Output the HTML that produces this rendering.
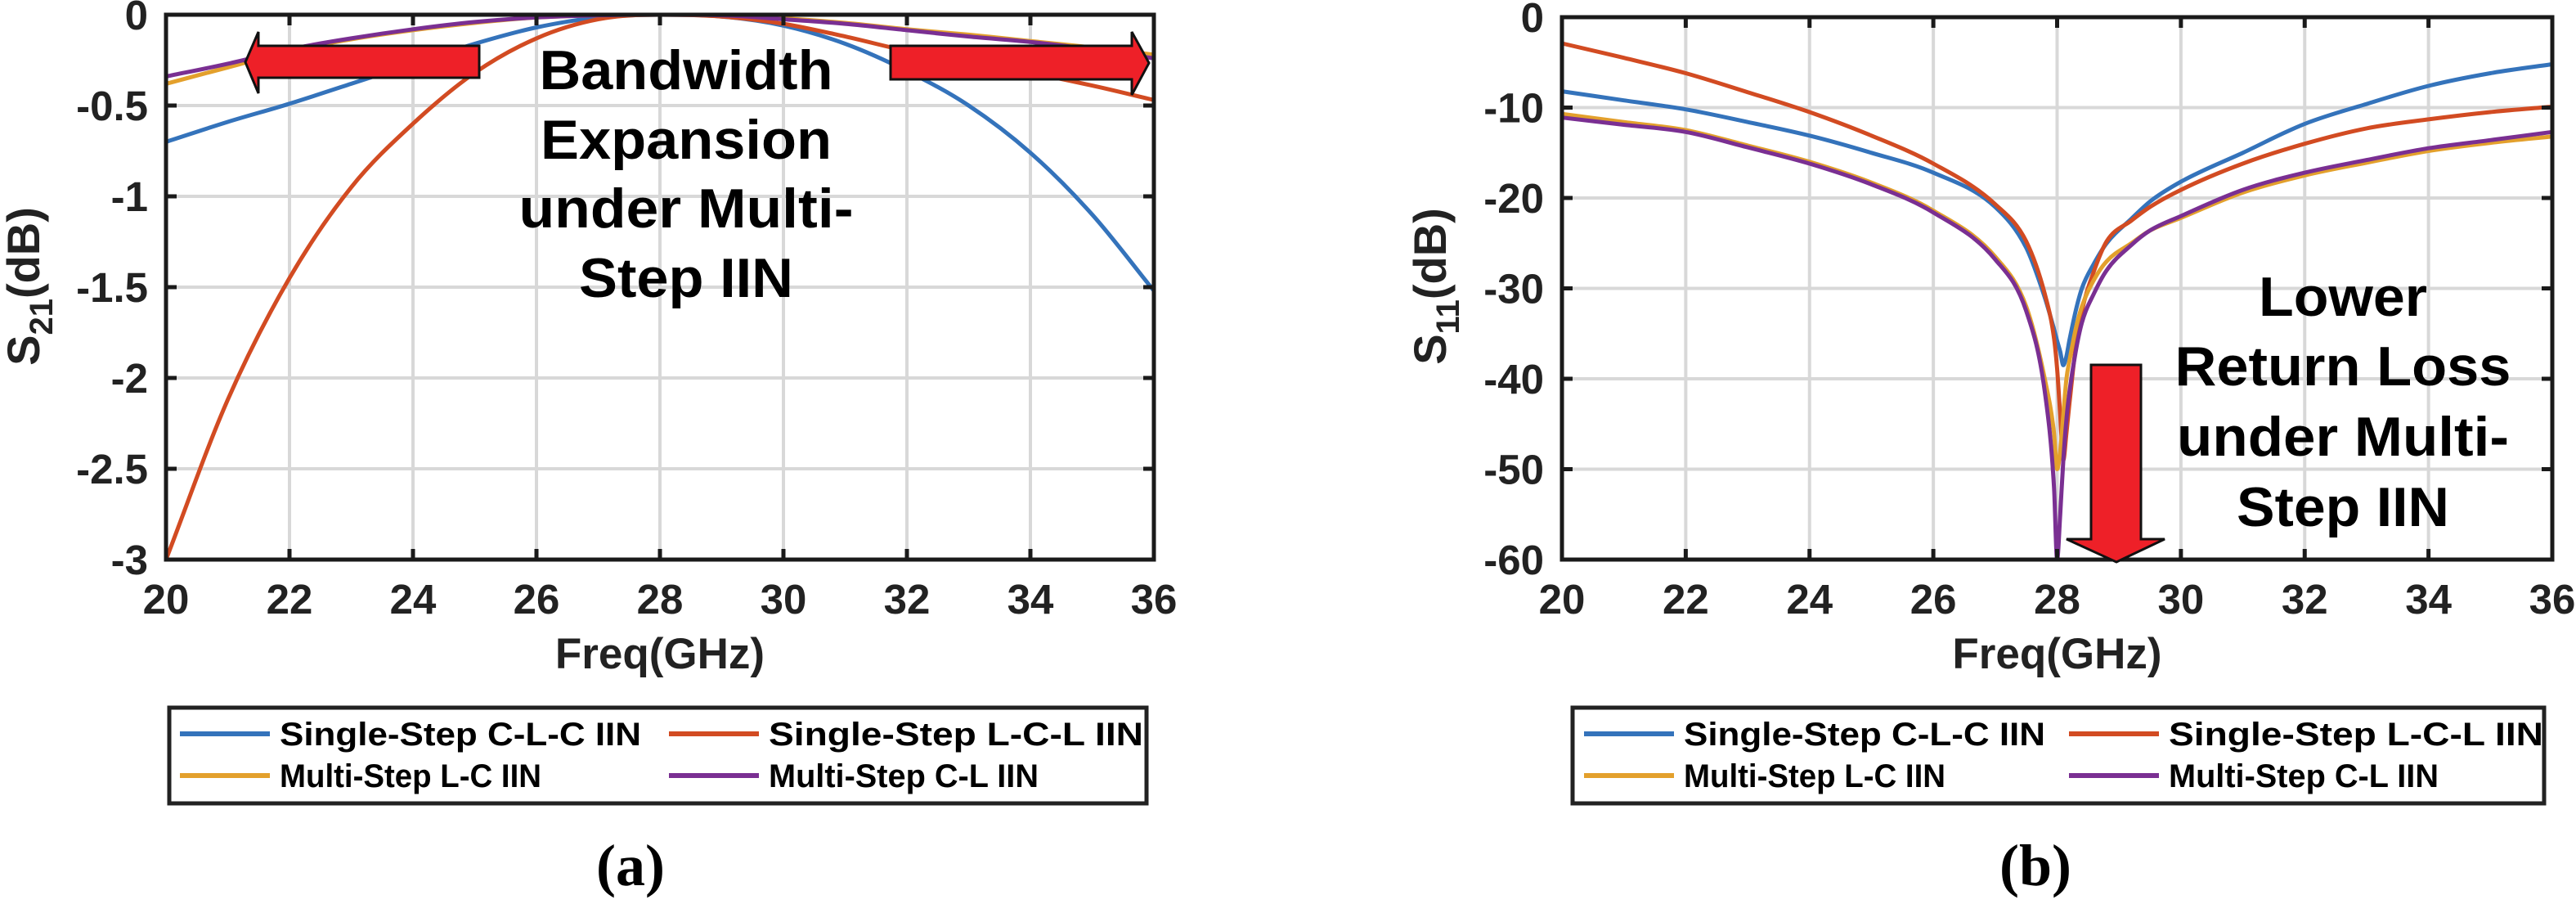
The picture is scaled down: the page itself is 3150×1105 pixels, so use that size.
<!DOCTYPE html>
<html><head><meta charset="utf-8"><style>
html,body{margin:0;padding:0;background:#fff;}
svg{display:block;}
text{font-family:"Liberation Sans",Arial,sans-serif;font-weight:bold;fill:#222;}
</style></head><body>
<svg id="fig" width="3150" height="1105" viewBox="0 0 3150 1105" xmlns="http://www.w3.org/2000/svg">
<g id="pa"></g>
<g id="pb"></g>
<g>
 <polygon points="300,76 316,39 316,56 586,56 586,95 316,95 316,114" fill="#ee2028" stroke="#111" stroke-width="3"/>
 <polygon points="1405,77 1384,39 1384,56 1089,56 1089,97 1384,97 1384,116" fill="#ee2028" stroke="#111" stroke-width="3"/>
 <text x="839" y="109" font-size="68" text-anchor="middle" textLength="359" lengthAdjust="spacingAndGlyphs" style="fill:#000">Bandwidth</text>
 <text x="839" y="194" font-size="68" text-anchor="middle" textLength="356" lengthAdjust="spacingAndGlyphs" style="fill:#000">Expansion</text>
 <text x="839" y="278" font-size="68" text-anchor="middle" textLength="409" lengthAdjust="spacingAndGlyphs" style="fill:#000">under Multi-</text>
 <text x="839" y="363" font-size="68" text-anchor="middle" textLength="262" lengthAdjust="spacingAndGlyphs" style="fill:#000">Step IIN</text>
</g>
<g>
 <polygon points="2557,446 2618,446 2618,659 2647,659 2588,687 2527,659 2557,659" fill="#ee2028" stroke="#111" stroke-width="3"/>
 <text x="2865" y="386" font-size="68" text-anchor="middle" textLength="206" lengthAdjust="spacingAndGlyphs" style="fill:#000">Lower</text>
 <text x="2865" y="471" font-size="68" text-anchor="middle" textLength="411" lengthAdjust="spacingAndGlyphs" style="fill:#000">Return Loss</text>
 <text x="2865" y="557" font-size="68" text-anchor="middle" textLength="406" lengthAdjust="spacingAndGlyphs" style="fill:#000">under Multi-</text>
 <text x="2865" y="643" font-size="68" text-anchor="middle" textLength="260" lengthAdjust="spacingAndGlyphs" style="fill:#000">Step IIN</text>
</g>
<text x="771" y="1082" font-size="72" text-anchor="middle" style="font-family:'Liberation Serif',serif;fill:#000">(a)</text>
<text x="2489" y="1082" font-size="72" text-anchor="middle" style="font-family:'Liberation Serif',serif;fill:#000">(b)</text>
</svg>
<script>
const NS="http://www.w3.org/2000/svg";
const seriesNames=["Single-Step C-L-C IIN","Single-Step L-C-L IIN","Multi-Step L-C IIN","Multi-Step C-L IIN"];
const seriesColors=["#3473bb","#d24b22","#e3a02c","#7a2f92"];
const xTicks=[20,22,24,26,28,30,32,34,36];
const yTicksA=[0,-0.5,-1,-1.5,-2,-2.5,-3];
const yTickLabelsA=["0","-0.5","-1","-1.5","-2","-2.5","-3"];
const yTicksB=[0,-10,-20,-30,-40,-50,-60];
const yTickLabelsB=["0","-10","-20","-30","-40","-50","-60"];
// S21 data
const freqA=[20,21,22,23,24,25,26,27,28,29,30,31,32,33,34,35,36];
const s21Blue=[-0.70,-0.59,-0.49,-0.38,-0.27,-0.16,-0.07,-0.015,0,-0.01,-0.06,-0.16,-0.31,-0.50,-0.76,-1.10,-1.52];
const s21Red=[-3.0,-2.12,-1.45,-0.95,-0.60,-0.32,-0.13,-0.025,0,-0.01,-0.05,-0.12,-0.20,-0.265,-0.32,-0.39,-0.47];
const s21Yellow=[-0.38,-0.29,-0.20,-0.135,-0.085,-0.045,-0.015,-0.003,0,-0.003,-0.02,-0.045,-0.08,-0.11,-0.145,-0.18,-0.22];
const s21Purple=[-0.34,-0.27,-0.19,-0.13,-0.08,-0.04,-0.015,-0.003,0,-0.003,-0.025,-0.05,-0.085,-0.12,-0.15,-0.19,-0.24];
// S11 data
const freqB=[20,21,22,23,24,25,26,27,27.5,27.8,27.95,28.0,28.05,28.1,28.15,28.2,28.3,28.4,28.6,28.8,29.2,29.5,30,31,32,33,34,35,36];
const s11Blue=[-8.2,-9.2,-10.2,-11.6,-13.1,-15,-17.2,-21,-25.5,-31,-34.5,-35.8,-37,-38.5,-37.5,-35.7,-32.5,-30,-27.2,-25,-22.3,-20.4,-18.2,-15,-11.8,-9.6,-7.6,-6.2,-5.2];
const s11Red=[-2.9,-4.5,-6.2,-8.3,-10.5,-13.1,-16.2,-20.7,-24.8,-30.6,-35.5,-38.9,-44,-49,-46,-42.7,-36.5,-32.5,-28,-24.8,-22.5,-21,-19.1,-16.2,-14,-12.3,-11.3,-10.5,-9.9];
const s11Yellow=[-10.7,-11.6,-12.5,-14.2,-16,-18.3,-21.4,-26.5,-32,-40,-46,-50,-48,-44,-40,-38,-34.5,-32,-29,-27,-25,-23.6,-22.2,-19.4,-17.5,-16.1,-14.8,-13.9,-13.2];
const s11Purple=[-11.1,-11.9,-12.7,-14.4,-16.2,-18.5,-21.6,-26.8,-32.5,-41.4,-52,-60,-55,-49,-44.5,-41.4,-37,-33.8,-30.5,-28,-25.2,-23.6,-22,-19.1,-17.2,-15.8,-14.5,-13.6,-12.7];

function el(tag,attrs,parent){const e=document.createElementNS(NS,tag);for(const k in attrs)e.setAttribute(k,attrs[k]);parent.appendChild(e);return e;}

function monotonePath(xs,ys){
  const n=xs.length,d=[],m=new Array(n);
  for(let i=0;i<n-1;i++)d.push((ys[i+1]-ys[i])/(xs[i+1]-xs[i]));
  m[0]=d[0];m[n-1]=d[n-2];
  for(let i=1;i<n-1;i++){m[i]=(d[i-1]*d[i]<=0)?0:(d[i-1]+d[i])/2;}
  for(let i=0;i<n-1;i++){
    if(d[i]===0){m[i]=0;m[i+1]=0;continue;}
    const a=m[i]/d[i],b=m[i+1]/d[i],s=a*a+b*b;
    if(s>9){const t=3/Math.sqrt(s);m[i]=t*a*d[i];m[i+1]=t*b*d[i];}
  }
  let p='M'+xs[0].toFixed(1)+','+ys[0].toFixed(1);
  for(let i=0;i<n-1;i++){
    const h=(xs[i+1]-xs[i])/3;
    p+=' C'+(xs[i]+h).toFixed(1)+','+(ys[i]+m[i]*h).toFixed(1)+' '+(xs[i+1]-h).toFixed(1)+','+(ys[i+1]-m[i+1]*h).toFixed(1)+' '+xs[i+1].toFixed(1)+','+ys[i+1].toFixed(1);
  }
  return p;
}

function drawPlot(g,box,ymin,ymax,yTicks,yLabels,freq,series,ylabelMain,ylabelSub,legendBox,yLabX){
  const sx=v=>box.l+(v-20)/(36-20)*(box.r-box.l);
  const sy=v=>box.t+(ymax-v)/(ymax-ymin)*(box.b-box.t);
  xTicks.forEach(v=>{const l=el('line',{x1:sx(v),x2:sx(v),y1:box.t,y2:box.b,stroke:'#d8d8d8','stroke-width':4},g);
    });
  yTicks.forEach(v=>{const l=el('line',{x1:box.l,x2:box.r,y1:sy(v),y2:sy(v),stroke:'#d8d8d8','stroke-width':4},g);
    });
  series.forEach((s,i)=>{
    const p=el('path',{d:monotonePath(freq.map(sx),s.map(sy)),fill:'none',stroke:seriesColors[i],'stroke-width':5,'stroke-linejoin':'round'},g);
    
    
  });
  const fr=el('rect',{x:box.l,y:box.t,width:box.r-box.l,height:box.b-box.t,fill:'none',stroke:'#1a1a1a','stroke-width':5},g);
  
  xTicks.forEach(v=>{
    el('line',{x1:sx(v),x2:sx(v),y1:box.b,y2:box.b-13,stroke:'#1a1a1a','stroke-width':5},g);
    el('line',{x1:sx(v),x2:sx(v),y1:box.t,y2:box.t+13,stroke:'#1a1a1a','stroke-width':5},g);
    const t=el('text',{x:sx(v),y:750,'font-size':51,'text-anchor':'middle'},g);t.textContent=String(v);
    
  });
  yTicks.forEach((v,i)=>{
    el('line',{x1:box.l,x2:box.l+13,y1:sy(v),y2:sy(v),stroke:'#1a1a1a','stroke-width':5},g);
    el('line',{x1:box.r,x2:box.r-13,y1:sy(v),y2:sy(v),stroke:'#1a1a1a','stroke-width':5},g);
    const t=el('text',{x:box.l-22,y:sy(v)+18,'font-size':51,'text-anchor':'end'},g);t.textContent=yLabels[i];
    
  });
  const xl=el('text',{x:(box.l+box.r)/2,y:817,'font-size':53,'text-anchor':'middle'},g);xl.textContent='Freq(GHz)';
  
  const yl=el('text',{x:0,y:0,'font-size':56,'text-anchor':'middle',transform:`translate(${yLabX},350) rotate(-90)`},g);
  
  const t1=el('tspan',{},yl);t1.textContent=ylabelMain;
  const t2=el('tspan',{dy:16,'font-size':40},yl);t2.textContent=ylabelSub;
  const t3=el('tspan',{dy:-16},yl);t3.textContent='(dB)';
  const lg=el('g',{},g);
  const lb=el('rect',{x:legendBox.l,y:865,width:legendBox.r-legendBox.l,height:117,fill:'#fff',stroke:'#222','stroke-width':5},lg);
  
  const cols=[legendBox.c1,legendBox.c2];
  const widths=[[442,458],[320,330]];
  seriesNames.forEach((n,i)=>{
    const c=cols[i%2],rowY=i<2?897:948;
    const e=el('g',{},lg);
    el('line',{x1:c,x2:c+110,y1:rowY,y2:rowY,stroke:seriesColors[i],'stroke-width':6},e);
    const t=el('text',{x:c+122,y:rowY+14,'font-size':40,textLength:widths[i<2?0:1][i%2],lengthAdjust:'spacingAndGlyphs'},e);
    t.style.fill='#000';t.textContent=n;
  });
}
drawPlot(document.getElementById('pa'),{l:203,r:1411,t:18,b:684},-3,0,yTicksA,yTickLabelsA,freqA,[s21Blue,s21Red,s21Yellow,s21Purple],'S','21',{l:207,r:1402,c1:220,c2:818},48);
drawPlot(document.getElementById('pb'),{l:1910,r:3121,t:21,b:684},-60,0,yTicksB,yTickLabelsB,freqB,[s11Blue,s11Red,s11Yellow,s11Purple],'S','11',{l:1923,r:3111,c1:1937,c2:2530},1768);
</script>
</body></html>
